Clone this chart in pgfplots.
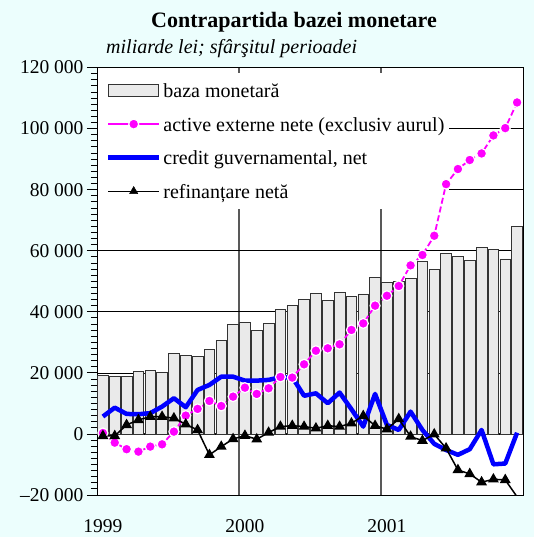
\documentclass[border=0pt]{standalone}
\usepackage{fontspec}
\setmainfont{Liberation Serif}
\usepackage{pgfplots}
\usepackage{pgfplotstable}
\pgfplotsset{compat=1.18}
\definecolor{bgc}{RGB}{236,254,253}
\definecolor{barfill}{RGB}{234,234,234}
\definecolor{mag}{RGB}{255,0,255}
\definecolor{bl}{RGB}{0,0,255}

\pgfplotstableread{
x    baza   active  credit  refin
0.5  19100  300     5700    -650
1.5  19000  -2850   8600    -650
2.5  18800  -5000   6550    2950
3.5  20400  -5800   6450    4600
4.5  20700  -4150   6800    5650
5.5  20100  -3400   8950    5650
6.5  26300  750     11700   5150
7.5  25600  6000    8750    3150
8.5  25500  8200    14400   1300
9.5  27800  10800   16050   -6850
10.5 30500  9150    18750   -4150
11.5 35900  12200   18750   -1650
12.5 36400  15150   17450   -550
13.5 33900  13100   17450   -1750
14.5 36200  14950   17700   450
15.5 40700  18650   18550   2400
16.5 42000  18450   18550   2700
17.5 44100  22800   12500   2400
18.5 46050  27250   13300   1850
19.5 43650  28050   10050   2700
20.5 46250  29350   13550   2400
21.5 45150  34050   8100    3500
22.5 45850  36200   2400    5900
23.5 51300  42000   13100   2700
24.5 49500  45250   2950    1550
25.5 49800  48450   1300    4900
26.5 50850  55200   7300    -850
27.5 56450  58600   1300    -2200
28.5 53950  64900   -3250   -100
29.5 59150  81800   -5250   -4700
30.5 58250  86750   -6850   -11800
31.5 56750  89700   -5000   -13100
32.5 61100  91850   1300    -15800
33.5 60450  97750   -9950   -14850
34.5 57300  100150  -9700   -15050
35.5 67800  108550  400     -20600
}\data

\pgfplotsset{
  mybase/.style={
    at={(97bp,42bp)}, anchor=south west,
    scale only axis, width=426bp, height=427.5bp,
    xmin=0, xmax=36, ymin=-20000, ymax=120000,
    scaled y ticks=false, scaled x ticks=false,
  },
}

\begin{document}
\begin{tikzpicture}
\fill[bgc] (0,0) rectangle (534bp,537bp);
% frame, grid, ticks, labels and legend
\begin{axis}[
  mybase,
  axis background/.style={fill=white},
  axis line style={black, line width=1bp},
  xtick={12,24}, xticklabels={},
  xmajorgrids, major x grid style={black!65, line width=1.3bp},
  xtick style={draw=none},
  extra x ticks={0.5,12.5,24.5},
  extra x tick labels={1999,2000,2001},
  extra x tick style={grid=none, xticklabel style={yshift=-11bp}},
  xtick pos=bottom,
  ytick={-20000,0,20000,40000,60000,80000,100000,120000},
  yticklabels={--20~000,0,20~000,40~000,60~000,80~000,100~000,120~000},
  minor y tick num=9,
  ymajorgrids, major y grid style={black, line width=0.7bp},
  extra y ticks={0}, extra y tick labels={\empty},
  extra y tick style={major y grid style={black, line width=1.6bp}},
  ytick pos=left,
  tick align=outside,
  major tick length=10bp, minor tick length=6bp,
  ytick style={black, line width=0.8bp},
  ticklabel style={font=\fontsize{19.5bp}{23bp}\selectfont},
  /pgf/number format/assume math mode=true,
  legend style={
    at={(0,1)}, anchor=north west, xshift=1bp, yshift=-5.5bp,
    draw=none, fill=white,
    inner xsep=3bp, inner ysep=6.5bp,
    row sep=12bp,
    nodes={inner sep=2bp},
    font=\fontsize{20bp}{23bp}\selectfont,
  },
  legend cell align=left,
]
\addlegendimage{legend image code/.code={
  \path[draw=none, fill=none] (0bp,0bp) -- (60bp,0bp);
  \draw[fill=barfill, draw=black!80, line width=0.8bp] (7bp,-6.25bp) rectangle (57bp,6.25bp);}}
\addlegendentry{\strut baza monetară}
\addlegendimage{legend image code/.code={
  \path[draw=none, fill=none] (0bp,0bp) -- (60bp,0bp);
  \draw[mag, line width=1.8bp] (7bp,0bp) -- (58bp,0bp);
  \draw[draw=white, fill=mag, line width=1.2bp] plot[mark=*, mark size=5bp] coordinates {(32.5bp,0bp)};}}
\addlegendentry{\strut active externe nete (exclusiv aurul)}
\addlegendimage{legend image code/.code={
  \path[draw=none, fill=none] (0bp,0bp) -- (60bp,0bp);
  \draw[bl, line width=4.5bp] (7bp,0bp) -- (58bp,0bp);}}
\addlegendentry{\strut credit guvernamental, net}
\addlegendimage{legend image code/.code={
  \path[draw=none, fill=none] (0bp,0bp) -- (60bp,0bp);
  \draw[black, line width=1.5bp] (7bp,0bp) -- (58bp,0bp);
  \draw[black, fill=black] plot[mark=triangle*, mark size=4.8bp] coordinates {(32.5bp,0bp)};}}
\addlegendentry{\strut refinanțare netă}
\end{axis}
% data, drawn over the legend box
\begin{axis}[mybase, hide axis, clip=true]
\addplot[ybar, bar width=0.9, fill=barfill, draw=black!80, line width=0.8bp, forget plot]
  table[x=x, y=baza]{\data};
\addplot[bl, line width=4.5bp, line join=round, no markers, forget plot]
  table[x=x, y=credit]{\data};
\addplot[mag, line width=1.8bp, dash pattern=on 6bp off 3bp, mark=*, mark size=5bp,
  mark options={solid, fill=mag, draw=white, line width=1.2bp}, forget plot]
  table[x=x, y=active]{\data};
\addplot[black, line width=1.5bp, mark=triangle*, mark size=4.8bp, mark options={solid}, forget plot]
  table[x=x, y=refin]{\data};
\end{axis}
\node[font=\bfseries\fontsize{22bp}{26bp}\selectfont, anchor=base] at (294bp,509bp) {Contrapartida bazei monetare};
\node[font=\itshape\fontsize{20bp}{23bp}\selectfont, anchor=base west, inner sep=0pt] at (106bp,483.5bp) {miliarde lei; sfârşitul perioadei};
\pgfresetboundingbox
\path (0,0) rectangle (534bp,537bp);
\end{tikzpicture}
\end{document}
